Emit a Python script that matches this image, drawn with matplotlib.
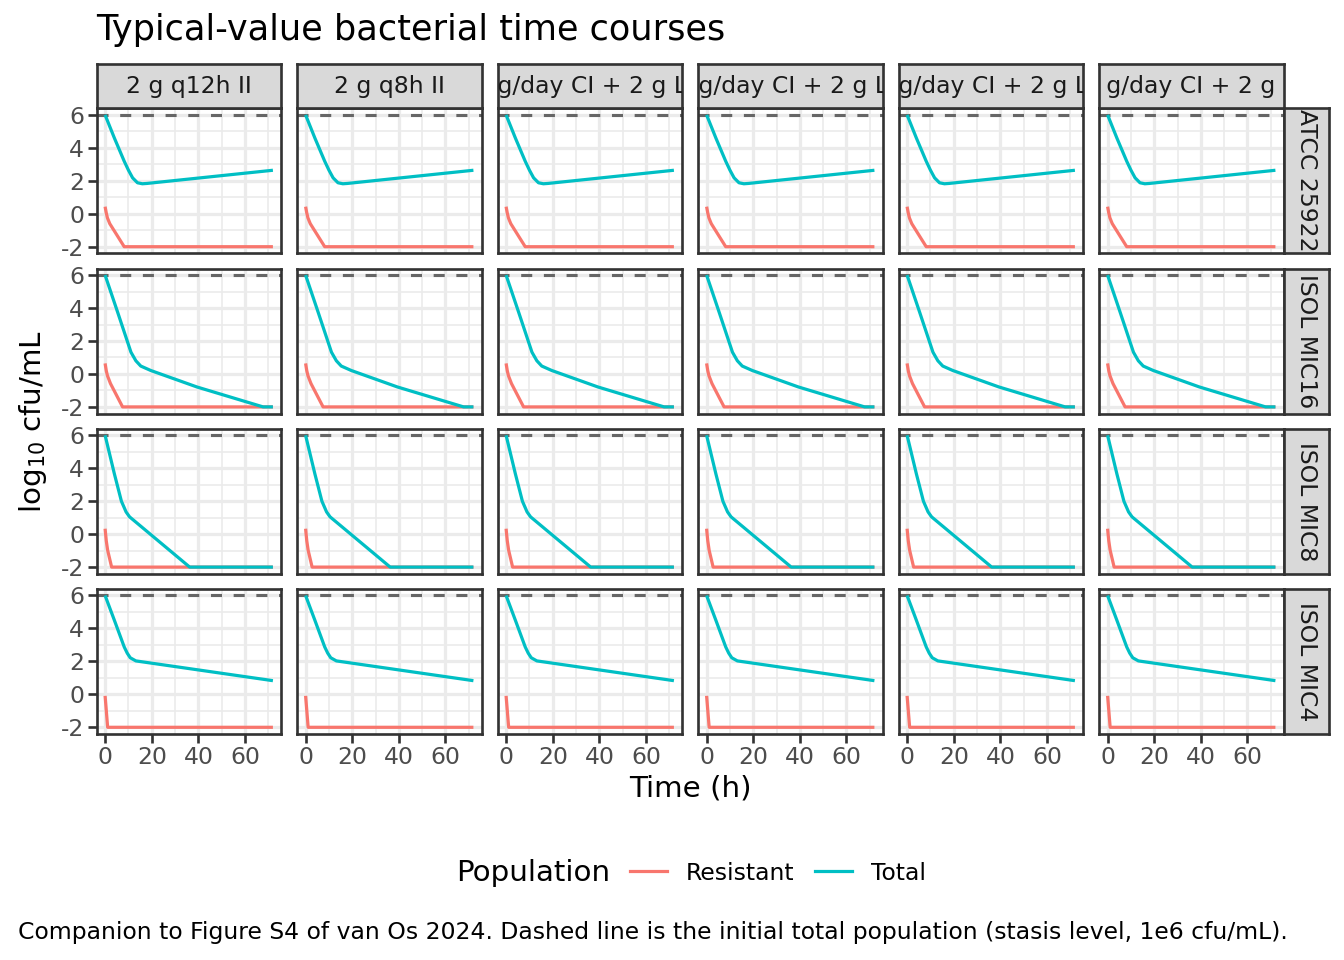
import matplotlib
matplotlib.use("Agg")
import matplotlib.pyplot as plt
from matplotlib.lines import Line2D

# ---------------- data ----------------
REGIMENS = ["2 g q12h II", "2 g q8h II",
            "4 g/day CI + 2 g LD", "6 g/day CI + 2 g LD",
            "8 g/day CI + 2 g LD", "12 g/day CI + 2 g LD"]
STRAINS = ["ATCC 25922", "ISOL MIC16", "ISOL MIC8", "ISOL MIC4"]

# total / resistant population, per strain (identical across regimens in the picture)
atcc_total_t = [0, 4, 8.2, 10, 11.8, 13.9, 16, 18, 72]
atcc_total_v = [6, 4.59, 3.19, 2.65, 2.18, 1.88, 1.82, 1.84, 2.64]
atcc_res_t = [0, 0.5, 1, 2, 8.2, 72]
atcc_res_v = [0.43, 0.05, -0.25, -0.6, -2, -2]

mic16_total_t = [0, 5.4, 11.1, 13.2, 15.3, 19.6, 39.4, 67.8, 72]
mic16_total_v = [6, 3.74, 1.32, 0.8, 0.48, 0.21, -0.79, -2, -2]
mic16_res_t = [0, 0.5, 1, 2.3, 7.5, 72]
mic16_res_v = [0.64, 0.2, -0.1, -0.58, -2, -2]

mic8_total_t = [0, 4, 7, 9, 10.5, 36.3, 72]
mic8_total_v = [6, 3.65, 2.0, 1.35, 1.05, -2, -2]
mic8_res_t = [0, 0.5, 1.1, 2.8, 72]
mic8_res_v = [0.33, -0.4, -0.98, -2, -2]

mic4_total_t = [0, 4, 8.2, 9.5, 10.8, 13.2, 72]
mic4_total_v = [6, 4.49, 2.88, 2.5, 2.22, 2.03, 0.83]
mic4_res_t = [0, 1.1, 72]
mic4_res_v = [-0.09, -2, -2]

STASIS = 6
X_TICKS = [0, 20, 40, 60]
Y_TICKS = [-2, 0, 2, 4, 6]

series = {
    "ATCC 25922": (atcc_total_t, atcc_total_v, atcc_res_t, atcc_res_v),
    "ISOL MIC16": (mic16_total_t, mic16_total_v, mic16_res_t, mic16_res_v),
    "ISOL MIC8": (mic8_total_t, mic8_total_v, mic8_res_t, mic8_res_v),
    "ISOL MIC4": (mic4_total_t, mic4_total_v, mic4_res_t, mic4_res_v),
}

# ---------------- style ----------------
COL_RES = "#F8766D"
COL_TOT = "#00BFC4"
W, H = 1344, 960
plt.rcParams["font.family"] = ["DejaVu Sans"]
plt.rcParams["axes.unicode_minus"] = False
plt.rcParams["mathtext.default"] = "regular"

fig = plt.figure(figsize=(7, 5), dpi=192)

def box(x0, y0, w, h):
    # pixel box (top-left origin) -> figure fraction
    return [x0 / W, 1 - (y0 + h) / H, w / W, h / H]

PANEL_L, PANEL_W, COL_STEP = 96.7, 184.6, 200.5
PANEL_T, PANEL_H, ROW_STEP = 108.3, 145.0, 160.2
STRIP = 44.5

for j, strain in enumerate(STRAINS):
    tt, tv, rt, rv = series[strain]
    top = PANEL_T + j * ROW_STEP
    for i, reg in enumerate(REGIMENS):
        left = PANEL_L + i * COL_STEP
        ax = fig.add_axes(box(left, top, PANEL_W, PANEL_H))
        ax.set_xlim(-3.6, 75.6)
        ax.set_ylim(-2.4, 6.4)
        ax.set_xticks(X_TICKS)
        ax.set_xticks([10, 30, 50, 70], minor=True)
        ax.set_yticks(Y_TICKS)
        ax.set_yticks([-1, 1, 3, 5], minor=True)
        ax.grid(True, which="major", color="#EBEBEB", lw=1.2, zorder=0)
        ax.grid(True, which="minor", color="#EBEBEB", lw=0.6, zorder=0)
        ax.set_axisbelow(True)
        for s in ax.spines.values():
            s.set_color("#333333")
            s.set_linewidth(1.0)
            s.set_zorder(5)
        ax.tick_params(which="minor", length=0)
        ax.tick_params(which="major", length=3.2, width=1.0, color="#333333",
                       labelsize=8.8, labelcolor="#4D4D4D", pad=1.5)
        if i != 0:
            ax.tick_params(axis="y", left=False, labelleft=False)
        if j != len(STRAINS) - 1:
            ax.tick_params(axis="x", bottom=False, labelbottom=False)

        ax.axhline(STASIS, color="#666666", lw=1.15, dashes=(3.6, 3.8), zorder=2)
        ax.plot(rt, rv, color=COL_RES, lw=1.2, zorder=3, solid_capstyle="butt")
        ax.plot(tt, tv, color=COL_TOT, lw=1.2, zorder=3, solid_capstyle="butt")

        # column strip on top row (long labels get clipped by the strip box)
        if j == 0:
            sax = fig.add_axes(box(left, top - STRIP, PANEL_W, STRIP))
            sax.set_facecolor("#D9D9D9")
            sax.set_xticks([]); sax.set_yticks([])
            for s in sax.spines.values():
                s.set_color("#333333"); s.set_linewidth(1.0)
            sax.text(0.5, 0.5, reg, transform=sax.transAxes, ha="center",
                     va="center", fontsize=8.8, color="#1A1A1A", clip_on=True)

        # row strip on right column
        if i == len(REGIMENS) - 1:
            rax = fig.add_axes(box(left + PANEL_W + 0.5, top, STRIP, PANEL_H))
            rax.set_facecolor("#D9D9D9")
            rax.set_xticks([]); rax.set_yticks([])
            for s in rax.spines.values():
                s.set_color("#333333"); s.set_linewidth(1.0)
            rax.text(0.5, 0.5, strain, transform=rax.transAxes, ha="center",
                     va="center", rotation=-90, fontsize=8.8, color="#1A1A1A",
                     clip_on=True)

# titles and axis labels
fig.text(96 / W, 1 - 30 / H, "Typical-value bacterial time courses",
         fontsize=13.2, ha="left", va="center")
fig.text(690 / W, 1 - 788 / H, "Time (h)", fontsize=11, ha="center", va="center")
fig.text(33 / W, 1 - 421 / H, "log$_{10}$ cfu/mL", fontsize=11, ha="center",
         va="center", rotation=90)

# legend
fig.text(610 / W, 1 - 873 / H, "Population", fontsize=11, ha="right", va="center")
handles = [Line2D([], [], color=COL_RES, lw=1.2), Line2D([], [], color=COL_TOT, lw=1.2)]
fig.legend(handles, ["Resistant", "Total"], ncol=2, frameon=False,
           loc="center left", bbox_to_anchor=(630 / W, 1 - 873 / H),
           fontsize=8.8, handlelength=1.57, handletextpad=0.8,
           columnspacing=0.9, borderpad=0, borderaxespad=0)

fig.text(18 / W, 1 - 932 / H,
         "Companion to Figure S4 of van Os 2024. Dashed line is the initial "
         "total population (stasis level, 1e6 cfu/mL).",
         fontsize=8.8, ha="left", va="center")

fig.savefig("out.png", dpi=192)
